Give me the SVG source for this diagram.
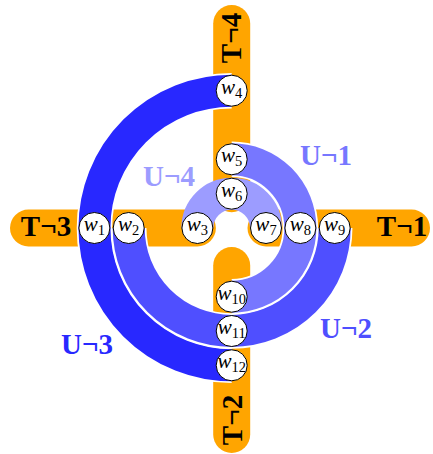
<svg xmlns="http://www.w3.org/2000/svg" width="433" height="454" viewBox="0 0 433 454">
<style>
.bar{stroke:#FFA500;stroke-width:37;stroke-linecap:round;fill:none}
.halo{stroke:#fff;stroke-width:35.5;fill:none}
.band{stroke-width:32;fill:none}
.node circle{fill:#fff;stroke:#000;stroke-width:1}
.node text{font-family:"Liberation Serif",serif;font-style:italic;font-size:21px;text-anchor:middle;fill:#000}
.node tspan.s{font-size:14.5px;font-style:normal}
.lab{font-family:"Liberation Serif",serif;font-weight:bold;font-size:29px;text-anchor:middle}
</style>
<g id="bars">
<line id="T1" class="bar" x1="266" y1="228" x2="411.5" y2="228"/>
<line id="T3" class="bar" x1="28.5" y1="228" x2="197.4" y2="228"/>
<line id="T4" class="bar" x1="231.7" y1="23.5" x2="231.7" y2="193.7"/>
<line id="T2" class="bar" x1="231.7" y1="265.5" x2="231.7" y2="434.5"/>
</g>
<g id="connectors">
<path class="halo" d="M231.7,90.7 A137.3,137.3 0 0 0 231.7,365.3"/>
<path id="U3" class="band" stroke="#2828FF" d="M231.7,90.7 A137.3,137.3 0 0 0 231.7,365.3"/>
<path class="halo" d="M128.7,228 A103,103 0 0 0 334.7,228"/>
<path id="U2" class="band" stroke="#4F4FFF" d="M128.7,228 A103,103 0 0 0 334.7,228"/>
<path id="U4" class="band" stroke="#9C9CFF" d="M197.4,228 A34.3,34.3 0 0 1 266,228"/>
<path class="halo" d="M231.7,159.3 A68.7,68.7 0 0 1 231.7,296.7"/>
<path id="U1" class="band" stroke="#7777FF" d="M231.7,159.3 A68.7,68.7 0 0 1 231.7,296.7"/>
</g>
<g id="labels">
<text class="lab" x="46" y="236" fill="#000">T¬3</text>
<text class="lab" x="402" y="236" fill="#000">T¬1</text>
<text class="lab" transform="translate(241,38) rotate(-90)" fill="#000">T¬4</text>
<text class="lab" transform="translate(241.5,420) rotate(-90)" fill="#000">T¬2</text>
<text class="lab" x="326" y="165" fill="#7777FF">U¬1</text>
<text class="lab" x="169" y="186" fill="#9C9CFF">U¬4</text>
<text class="lab" x="346" y="338" fill="#4F4FFF">U¬2</text>
<text class="lab" x="87" y="354" fill="#2828FF">U¬3</text>
</g>
<g id="w1" class="node"><circle cx="94.4" cy="228" r="15.5"/><text x="94.4" y="231">w<tspan class="s" dy="4">1</tspan></text></g>
<g id="w2" class="node"><circle cx="128.7" cy="228" r="15.5"/><text x="128.7" y="231">w<tspan class="s" dy="4">2</tspan></text></g>
<g id="w3" class="node"><circle cx="197.4" cy="228" r="15.5"/><text x="197.4" y="231">w<tspan class="s" dy="4">3</tspan></text></g>
<g id="w7" class="node"><circle cx="266" cy="228" r="15.5"/><text x="266" y="231">w<tspan class="s" dy="4">7</tspan></text></g>
<g id="w8" class="node"><circle cx="300.4" cy="228" r="15.5"/><text x="300.4" y="231">w<tspan class="s" dy="4">8</tspan></text></g>
<g id="w9" class="node"><circle cx="334.7" cy="228" r="15.5"/><text x="334.7" y="231">w<tspan class="s" dy="4">9</tspan></text></g>
<g id="w4" class="node"><circle cx="231.7" cy="90.7" r="15.5"/><text x="231.7" y="93.7">w<tspan class="s" dy="4">4</tspan></text></g>
<g id="w5" class="node"><circle cx="231.7" cy="159.3" r="15.5"/><text x="231.7" y="162.3">w<tspan class="s" dy="4">5</tspan></text></g>
<g id="w6" class="node"><circle cx="231.7" cy="193.7" r="15.5"/><text x="231.7" y="196.7">w<tspan class="s" dy="4">6</tspan></text></g>
<g id="w10" class="node"><circle cx="231.7" cy="296.7" r="15.5"/><text x="231.7" y="299.7">w<tspan class="s" dy="4">10</tspan></text></g>
<g id="w11" class="node"><circle cx="231.7" cy="331" r="15.5"/><text x="231.7" y="334">w<tspan class="s" dy="4">11</tspan></text></g>
<g id="w12" class="node"><circle cx="231.7" cy="365.3" r="15.5"/><text x="231.7" y="368.3">w<tspan class="s" dy="4">12</tspan></text></g>
</svg>
